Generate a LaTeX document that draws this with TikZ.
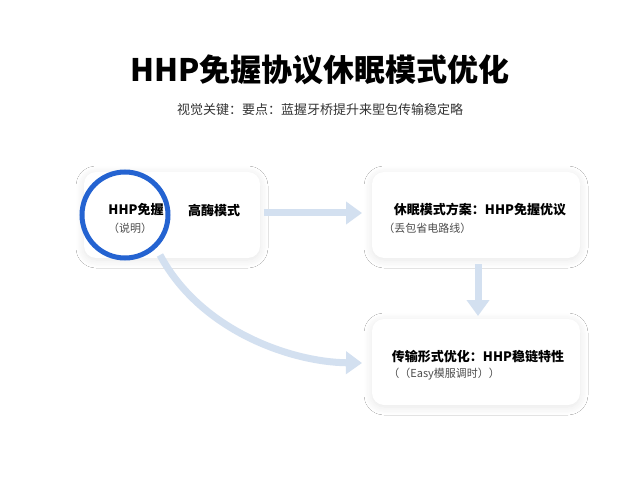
\documentclass[tikz,border=0pt]{standalone}
\usepackage{fontspec}
\setmainfont{Noto Sans CJK SC}
\usepackage{tikz}
\usetikzlibrary{arrows.meta,shadows.blur}
\definecolor{ringblue}{HTML}{2463D1}
\definecolor{flowblue}{HTML}{D3E0F0}
\tikzset{
  card/.style={draw=none,fill=white,rounded corners=6pt,blur shadow={shadow blur steps=8,shadow blur radius=4pt,shadow xshift=0pt,shadow yshift=-1pt,shadow opacity=10}},
  flow/.style={draw=flowblue,line width=3.5pt,-{Triangle[length=8pt,width=11pt]}},
  main/.style={font=\fontsize{6.5}{8}\selectfont\bfseries,inner sep=0pt},
  note/.style={font=\fontsize{5.5}{6}\selectfont,text=black!70,inner sep=0pt}
}
\begin{document}
\begin{tikzpicture}[x=0.5pt,y=-0.5pt]
\useasboundingbox[fill=white] (0,0) rectangle (640,480);
\node[font=\fontsize{15.5}{17}\selectfont\bfseries] (title) at (320,70) {HHP免握协议休眠模式优化};
\node[font=\fontsize{6.5}{8}\selectfont,text=black!80] (subtitle) at (320,110) {视觉关键：要点：蓝握牙桥提升来堲包传输稳定略};

\node[card,minimum width=88pt,minimum height=43pt] (wake) at (172,215) {};
\node[card,minimum width=104pt,minimum height=43pt] (sleep) at (476,215) {};
\node[card,minimum width=104pt,minimum height=43pt] (trans) at (476,362) {};

\coordinate (wakeout) at (264,213);
\coordinate (sleepin) at (362,213);
\coordinate (sleepout) at (478,264);
\coordinate (transin) at (478,316);
\coordinate (curveout) at (160,255);
\coordinate (curvein) at (362,363);
\draw[flow] (wakeout) -- (sleepin);
\draw[flow] (sleepout) -- (transin);
\draw[flow] (curveout) .. controls (200,330) and (290,362) .. (curvein);

\node[circle,draw=ringblue,line width=2.5pt,minimum size=43pt,fill=white,inner sep=0pt] (ring) at (125,215) {};
\node[main] (ringtext) at (136,210) {HHP免握};
\node[note] (ringnote) at (130,228) {（说明）};
\node[main] (waketext) at (214,211) {高酶模式};

\node[main] (sleeptext) at (480,210) {休眠模式方案：HHP免握优议};
\node[note,anchor=west] (sleepnote) at (383,228) {（丢包省电路线）};
\node[main] (transtext) at (478,357) {传输形式优化：HHP稳链特性};
\node[note,anchor=west] (transnote) at (388,374) {（（Easy模服调时））};
\end{tikzpicture}
\end{document}
